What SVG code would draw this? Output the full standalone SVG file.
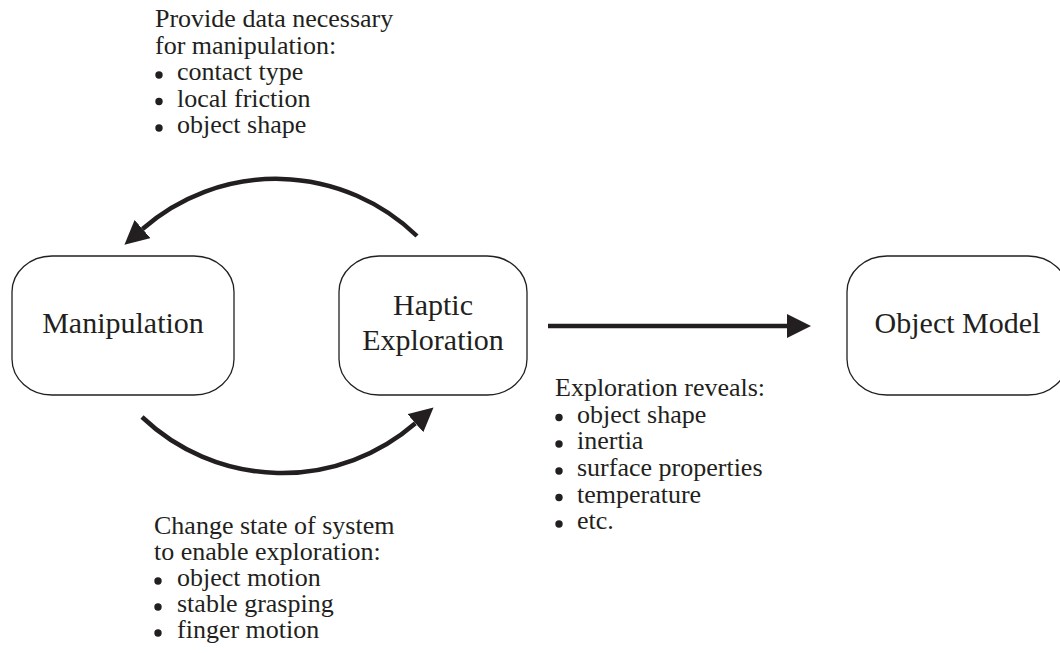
<svg xmlns="http://www.w3.org/2000/svg" width="1060" height="653" viewBox="0 0 1060 653">
  <style>
    .node rect { fill: #ffffff; stroke: #231f20; stroke-width: 1.3; }
    .label { font-family: "Liberation Serif", "Times New Roman", serif; font-size: 30px; fill: #231f20; text-anchor: middle; }
    .note { font-family: "Liberation Serif", "Times New Roman", serif; font-size: 26px; fill: #231f20; }
    .bullet { fill: #231f20; }
    .edge { fill: none; stroke: #231f20; stroke-width: 4.5; marker-end: url(#head); }
  </style>
  <defs>
    <marker id="head" markerUnits="userSpaceOnUse" markerWidth="24" markerHeight="24" viewBox="0 0 24 24" refX="0" refY="12" orient="auto">
      <path d="M0,0 L24,12 L0,24 Z" fill="#231f20"/>
    </marker>
  </defs>

  <rect width="1060" height="653" fill="#ffffff"/>

  <!-- connectors -->
  <g id="connectors">
    <path class="edge" d="M417,236 A202.7,202.7 0 0 0 142.5,229"/>
    <path class="edge" d="M142,417 A203.2,203.2 0 0 0 415.4,423.2"/>
    <path class="edge" d="M548,326 L787,326"/>
  </g>

  <!-- nodes -->
  <g id="manipulation" class="node">
    <rect x="12" y="256" width="222" height="139" rx="40" ry="36"/>
    <text class="label" x="123" y="333">Manipulation</text>
  </g>
  <g id="haptic-exploration" class="node">
    <rect x="339" y="256" width="188" height="139" rx="40" ry="36"/>
    <text class="label" x="433" y="315">Haptic</text>
    <text class="label" x="433" y="350">Exploration</text>
  </g>
  <g id="object-model" class="node">
    <rect x="847" y="256" width="221" height="139" rx="40" ry="36"/>
    <text class="label" x="957.5" y="333">Object Model</text>
  </g>

  <!-- annotations -->
  <g id="note-provide">
    <text class="note" x="155" y="27">Provide data necessary</text>
    <text class="note" x="155" y="53.5">for manipulation:</text>
    <circle class="bullet" cx="159" cy="75" r="3.7"/>
    <text class="note" x="177" y="80">contact type</text>
    <circle class="bullet" cx="159" cy="101.5" r="3.7"/>
    <text class="note" x="177" y="106.5">local friction</text>
    <circle class="bullet" cx="159" cy="128" r="3.7"/>
    <text class="note" x="177" y="133">object shape</text>
  </g>

  <g id="note-change">
    <text class="note" x="154" y="534">Change state of system</text>
    <text class="note" x="154" y="560">to enable exploration:</text>
    <circle class="bullet" cx="158" cy="581" r="3.7"/>
    <text class="note" x="177" y="586">object motion</text>
    <circle class="bullet" cx="158" cy="607" r="3.7"/>
    <text class="note" x="177" y="612">stable grasping</text>
    <circle class="bullet" cx="158" cy="633" r="3.7"/>
    <text class="note" x="177" y="638">finger motion</text>
  </g>

  <g id="note-reveals">
    <text class="note" x="555" y="396">Exploration reveals:</text>
    <circle class="bullet" cx="559" cy="417.5" r="3.7"/>
    <text class="note" x="577" y="422.5">object shape</text>
    <circle class="bullet" cx="559" cy="444" r="3.7"/>
    <text class="note" x="577" y="449">inertia</text>
    <circle class="bullet" cx="559" cy="471" r="3.7"/>
    <text class="note" x="577" y="476">surface properties</text>
    <circle class="bullet" cx="559" cy="497.5" r="3.7"/>
    <text class="note" x="577" y="502.5">temperature</text>
    <circle class="bullet" cx="559" cy="524" r="3.7"/>
    <text class="note" x="577" y="529">etc.</text>
  </g>
</svg>
